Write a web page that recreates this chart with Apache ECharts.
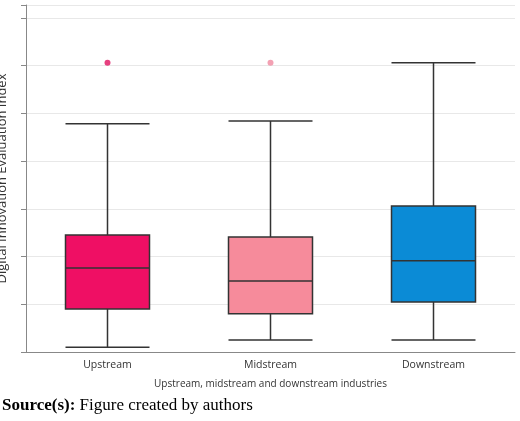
<!DOCTYPE html>
<html><head><meta charset="utf-8">
<script src="https://cdn.jsdelivr.net/npm/echarts@6/dist/echarts.min.js"></script>
<style>body{margin:0;background:#fff}#c{width:520px;height:421px}</style>
</head><body><div id="c"></div>
<script>
const categories = ['Upstream', 'Midstream', 'Downstream'];
// [min, Q1, median, Q3, max]
const boxValues = [
  [0.10, 0.90, 1.76, 2.45, 4.78],
  [0.25, 0.80, 1.49, 2.41, 4.84],
  [0.25, 1.05, 1.91, 3.06, 6.06]
];
const outliers = [[0, 6.06], [1, 6.06]];
const boxColors = ['#ef0f64', '#f68b9b', '#0b8bd6'];
const outlierColors = ['#e0105f', '#f08aa0'];

const chart = echarts.init(document.getElementById('c'));
chart.setOption({
  animation: false,
  grid: { left: 26, right: 5, top: 5, bottom: 69, containLabel: false, outerBoundsMode: 'none' },
  xAxis: {
    type: 'category', data: categories,
    name: 'Upstream, midstream and downstream industries',
    nameLocation: 'middle', nameGap: 27,
    nameTextStyle: { fontFamily: 'Open Sans', fontSize: 10, color: '#333' },
    axisLine: { lineStyle: { color: '#888' } },
    axisTick: { alignWithLabel: true, length: 4, lineStyle: { color: '#888' } },
    axisLabel: { fontFamily: 'Open Sans', fontSize: 10.5, color: '#333', margin: 8 }
  },
  yAxis: {
    type: 'value', min: 0, max: 7.27, interval: 1,
    name: 'Digital Innovation Evaluation Index',
    nameLocation: 'middle', nameGap: 17,
    nameTextStyle: { fontFamily: 'Open Sans', fontSize: 13, color: '#333' },
    axisLine: { show: true, lineStyle: { color: '#888' } },
    axisTick: { show: true, length: 5, lineStyle: { color: '#888' } },
    axisLabel: { show: false },
    splitLine: { lineStyle: { color: '#e8e8e8' } }
  },
  series: [
    {
      type: 'boxplot',
      boxWidth: [84, 84],
      data: boxValues.map((v, i) => ({
        value: v,
        itemStyle: { color: boxColors[i], borderColor: '#333', borderWidth: 1.5 }
      }))
    },
    {
      type: 'scatter', symbolSize: 6,
      data: outliers.map((p, i) => ({ value: p, itemStyle: { color: outlierColors[i] } }))
    }
  ],
  graphic: [{
    type: 'text', left: 2, top: 397,
    style: {
      text: '{b|Source(s):} Figure created by authors',
      rich: { b: { fontWeight: 'bold', fontFamily: 'Liberation Serif', fontSize: 17, fill: '#000' } },
      fontFamily: 'Liberation Serif', fontSize: 17, fill: '#000'
    }
  }]
});
</script></body></html>
